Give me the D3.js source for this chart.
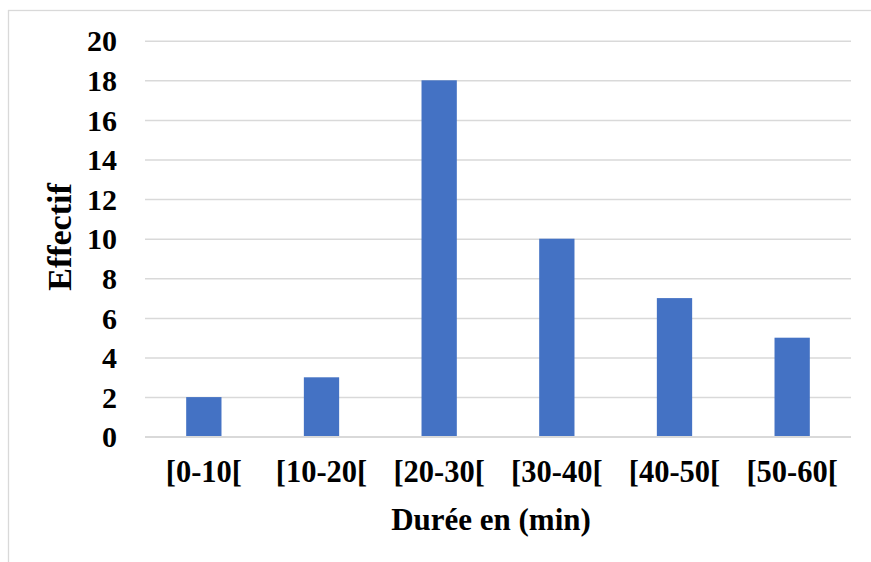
<!DOCTYPE html>
<html><head><meta charset="utf-8">
<script src="https://cdn.jsdelivr.net/npm/d3@7"></script>
<style>body{margin:0;background:#fff}svg{display:block}</style>
</head><body>
<svg id="c" width="871" height="562"></svg>
<script>
const categories = ["[0-10[", "[10-20[", "[20-30[", "[30-40[", "[40-50[", "[50-60["];
const values = [2, 3, 18, 10, 7, 5];
const yTicks = [0, 2, 4, 6, 8, 10, 12, 14, 16, 18, 20];
const xTitle = "Durée en (min)";
const yTitle = "Effectif";

const svg = d3.select("#c");
const font = "'Liberation Serif','Times New Roman',serif";
svg.append("rect").attr("x", 8.5).attr("y", 10.5).attr("width", 900).attr("height", 600)
  .attr("fill", "#fff").attr("stroke", "#d9d9d9").attr("stroke-width", 1.3);

const x = d3.scaleBand().domain(categories).range([145, 851]).paddingInner(0.7).paddingOuter(0.35);
const y = d3.scaleLinear().domain([0, 20]).range([436.7, 40.7]);

const gy = svg.append("g").attr("transform", "translate(145,0)")
  .call(d3.axisLeft(y).tickValues(yTicks).tickSize(-706).tickPadding(28).tickFormat(d3.format("d")));
gy.select(".domain").remove();
gy.selectAll(".tick line").attr("stroke", "#d9d9d9").attr("stroke-width", 1.5);
gy.selectAll(".tick text").attr("font-family", font).attr("font-weight", "bold")
  .attr("font-size", 30).attr("fill", "#000").attr("dy", "0.34em");

svg.append("g").selectAll("rect").data(values).join("rect")
  .attr("x", (d, i) => x(categories[i])).attr("width", x.bandwidth())
  .attr("y", d => y(d)).attr("height", d => y(0) - y(d)).attr("fill", "#4472C4");

const gx = svg.append("g").attr("transform", `translate(0,${y(0)})`)
  .call(d3.axisBottom(x).tickSize(0).tickPadding(12));
gx.select(".domain").attr("stroke", "#d9d9d9").attr("stroke-width", 1.5)
  .attr("d", "M145,0H851");
gx.selectAll(".tick text").attr("font-family", font).attr("font-weight", "bold")
  .attr("font-size", 30.5).attr("fill", "#000").attr("dy", "0").attr("y", 45);

svg.append("text").attr("x", 491).attr("y", 530).attr("text-anchor", "middle")
  .attr("font-family", font).attr("font-weight", "bold").attr("font-size", 31).text(xTitle);
svg.append("text").attr("transform", "translate(71,237) rotate(-90)").attr("text-anchor", "middle")
  .attr("font-family", font).attr("font-weight", "bold").attr("font-size", 34).text(yTitle);
</script>
</body></html>
